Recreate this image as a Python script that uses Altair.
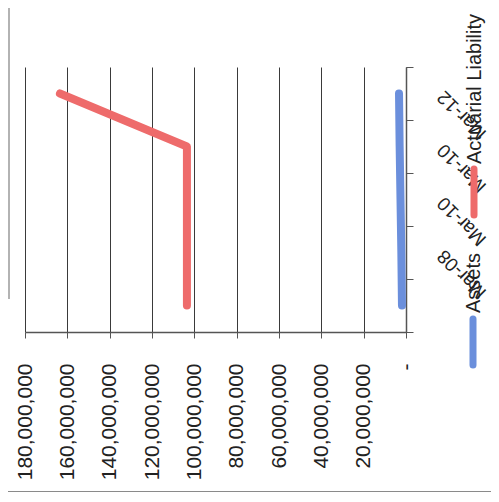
import altair as alt
import pandas as pd

# ---- data read from the (rotated) reference ----
cat_index = [0, 1, 2, 3, 4]
cat_labels = ["", "Mar-08", "Mar-10", "Mar-10", "Mar-12"]
assets = [1.9e6, 2.2e6, 2.6e6, 3.0e6, 3.3e6]
liability = [103.5e6, 103.5e6, 103.5e6, 103.5e6, 163.5e6]
series_names = ["Assets", "Actuarial Liability"]
series_colors = ["#6B8FDC", "#EE6B6B"]
value_ticks = [0, 20e6, 40e6, 60e6, 80e6, 100e6, 120e6, 140e6, 160e6, 180e6]

rows = []
for i, a, l in zip(cat_index, assets, liability):
    rows.append({"i": i, "series": series_names[0], "value": a})
    rows.append({"i": i, "series": series_names[1], "value": l})
df = pd.DataFrame(rows)

W, H = 381, 265
FONT = "Liberation Sans"
AX = "#555555"

label_expr = "[" + ",".join("'" + s + "'" for s in cat_labels) + "][datum.value]"

x_enc = alt.X(
    "value:Q",
    scale=alt.Scale(domain=[0, 180e6], reverse=True, nice=False, zero=True),
    axis=alt.Axis(
        orient="bottom", values=value_ticks,
        labelExpr="datum.value == 0 ? '-' : format(datum.value, ',')",
        labelAngle=270, labelAlign="right", labelBaseline="middle",
        labelFontSize=21, labelFont=FONT, labelColor="#222222",
        labelPadding=25, labelFlush=False, labelOverlap=False,
        tickSize=6, tickColor=AX, domainColor=AX, domainWidth=1.5,
        grid=True, gridColor="#3a3a3a", gridWidth=1, title=None,
    ),
)
y_enc = alt.Y(
    "i:O",
    scale=alt.Scale(type="band", domain=cat_index[::-1], paddingInner=0, paddingOuter=0),
    axis=alt.Axis(
        orient="right", tickBand="extent", labelExpr=label_expr,
        labelAngle=225, labelAlign="right", labelBaseline="middle",
        labelFontSize=19, labelFont=FONT, labelColor="#222222",
        labelPadding=27, tickSize=7, tickColor=AX, domainColor=AX, domainWidth=1.5,
        grid=False, title=None, labelOverlap=False,
    ),
)

lines = alt.Chart(df).mark_line(strokeWidth=8, strokeCap="round", strokeJoin="round").encode(
    x=x_enc,
    y=y_enc,
    color=alt.Color("series:N", scale=alt.Scale(domain=series_names, range=series_colors), legend=None),
    order=alt.Order("i:Q"),
)

one = pd.DataFrame({"k": [0]})
frame_bottom = alt.Chart(one).mark_rule(color="#8a8a8a", strokeWidth=2).encode(
    x=alt.value(-17), x2=alt.value(466), y=alt.value(425)
)
frame_left = alt.Chart(one).mark_rule(color="#9a9a9a", strokeWidth=1.5).encode(
    x=alt.value(-16), y=alt.value(-59), y2=alt.value(232)
)

leg_assets = pd.DataFrame({"name": [series_names[0]]})
leg_liab = pd.DataFrame({"name": [series_names[1]]})

sym_assets = alt.Chart(leg_assets).mark_rule(color=series_colors[0], strokeWidth=7, strokeCap="round").encode(
    x=alt.value(448), y=alt.value(252), y2=alt.value(298)
)
sym_liab = alt.Chart(leg_liab).mark_rule(color=series_colors[1], strokeWidth=7, strokeCap="round").encode(
    x=alt.value(449), y=alt.value(102), y2=alt.value(148)
)
txt_assets = alt.Chart(leg_assets).mark_text(angle=270, align="left", baseline="middle",
                                              fontSize=20, font=FONT, color="#222222").encode(
    x=alt.value(449), y=alt.value(246), text="name:N"
)
txt_liab = alt.Chart(leg_liab).mark_text(angle=270, align="left", baseline="middle",
                                          fontSize=20, font=FONT, color="#222222").encode(
    x=alt.value(450), y=alt.value(97), text="name:N"
)

chart = alt.layer(
    frame_bottom, frame_left, lines, sym_assets, sym_liab, txt_assets, txt_liab
).properties(
    width=W, height=H,
    padding={"left": 17, "top": 59, "right": 85, "bottom": 160},
    autosize=alt.AutoSizeParams(type="none"),
).configure_view(stroke=None)

chart.save("out.html", embed_options={"renderer": "svg", "actions": False})
